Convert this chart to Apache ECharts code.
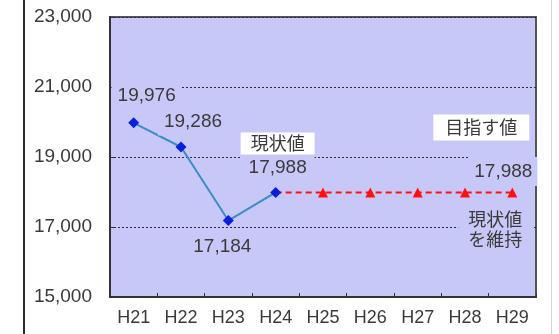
<!DOCTYPE html>
<html>
<head>
<meta charset="utf-8">
<script src="https://cdn.jsdelivr.net/npm/echarts@6/dist/echarts.min.js"></script>
<style>
  html, body { margin: 0; padding: 0; background: #ffffff; }
  #wrap { position: relative; width: 559px; height: 334px; overflow: hidden; }
  #chart { position: absolute; left: 0; top: 0; width: 559px; height: 334px; }
  #frameL { position: absolute; left: 23px; top: 0; width: 2px; height: 334px; background: #2a2a2a; }
  #frameR { position: absolute; left: 551px; top: 0; width: 1px; height: 334px; background: #d4d4d4; }
</style>
</head>
<body>
<div id="wrap">
  <div id="chart"></div>
  <div id="frameL"></div>
  <div id="frameR"></div>
</div>
<script>
// ---- data ----
const categories = ['H21', 'H22', 'H23', 'H24', 'H25', 'H26', 'H27', 'H28', 'H29'];
const actualValues = [19976, 19286, 17184, 17988, null, null, null, null, null];
const targetValues = [null, null, null, 17988, 17988, 17988, 17988, 17988, 17988];
const yTickValues = [15000, 17000, 19000, 21000, 23000];
const currentLabel = '現状値';
const goalLabel = '目指す値';
const keepLabel = '現状値\nを維持';

// ---- styling ----
const PLOT_BG = '#c8c8f8';
const TEXT = '#3a3a3a';
const NUM_FONT = "'Liberation Sans', Arial, sans-serif";
const JP_FONT = "'Noto Sans CJK JP', sans-serif";
const fmt = v => v.toLocaleString('en-US');

// label offsets (pixel nudges from each point)
const actualOffsets = [[13, -27], [12, -25], [-6, 26], [2, -37], null, null, null, null, null];

const actualData = actualValues.map((v, i) => {
  const item = { value: v };
  if (v == null) return item;
  if (i === 3) {
    item.label = {
      offset: actualOffsets[i],
      formatter: p => '{a|' + currentLabel + '}\n{b|' + fmt(p.value) + '}',
      backgroundColor: PLOT_BG,
      padding: [0, 0]
    };
  } else {
    item.label = { offset: actualOffsets[i] };
  }
  return item;
});

const lastIdx = targetValues.length - 1;
const chart = echarts.init(document.getElementById('chart'), null, { renderer: 'canvas' });

chart.setOption({
  animation: false,
  backgroundColor: '#ffffff',
  grid: {
    left: 110, right: 23, top: 17, bottom: 37,
    show: true, backgroundColor: PLOT_BG, borderColor: '#555555', borderWidth: 2
  },
  xAxis: {
    type: 'category',
    data: categories,
    boundaryGap: true,
    axisLine: { lineStyle: { color: '#333333', width: 2 } },
    axisTick: { show: true, inside: true, length: 4, lineStyle: { color: '#333333', width: 1 } },
    axisLabel: { color: TEXT, fontSize: 18, fontFamily: NUM_FONT, margin: 12 },
    splitLine: { show: false }
  },
  yAxis: {
    type: 'value',
    min: yTickValues[0],
    max: yTickValues[yTickValues.length - 1],
    interval: yTickValues[1] - yTickValues[0],
    axisLine: { show: true, lineStyle: { color: '#333333', width: 2 } },
    axisTick: { show: true, inside: true, length: 4, lineStyle: { color: '#333333' } },
    axisLabel: { color: TEXT, fontSize: 19, fontFamily: NUM_FONT, margin: 18, formatter: v => fmt(v) },
    splitLine: { show: true, lineStyle: { color: '#2a2a3a', width: 1, type: [2, 2] } }
  },
  series: [
    {
      name: 'target',
      type: 'line',
      data: targetValues,
      z: 3,
      symbol: (v, p) => (p.dataIndex === 3 ? 'none' : 'triangle'),
      symbolSize: 10,
      lineStyle: { color: '#ff1010', width: 2, type: [6, 4] },
      itemStyle: { color: '#ff1010' },
      label: { show: false },
      markPoint: {
        symbol: 'circle',
        symbolSize: 1,
        itemStyle: { color: 'rgba(0,0,0,0)' },
        data: [
          {
            coord: [categories[lastIdx], targetValues[lastIdx]],
            label: {
              show: true, position: 'inside', offset: [-31, -65],
              formatter: goalLabel,
              color: TEXT, fontSize: 18, fontFamily: JP_FONT,
              backgroundColor: '#ffffff', padding: [4, 12, 4, 12]
            }
          },
          {
            coord: [categories[lastIdx], targetValues[lastIdx]],
            label: {
              show: true, position: 'inside', offset: [-9, -21],
              formatter: fmt(targetValues[lastIdx]),
              color: TEXT, fontSize: 19, fontFamily: NUM_FONT,
              backgroundColor: PLOT_BG, padding: [6, 5, 4, 5]
            }
          },
          {
            coord: [categories[lastIdx], targetValues[lastIdx]],
            label: {
              show: true, position: 'inside', offset: [-17, 37],
              formatter: keepLabel,
              color: TEXT, fontSize: 18, lineHeight: 20, fontFamily: JP_FONT,
              backgroundColor: PLOT_BG, padding: [2, 10, 2, 10]
            }
          }
        ]
      }
    },
    {
      name: 'actual',
      type: 'line',
      data: actualData,
      z: 4,
      symbol: 'diamond',
      symbolSize: 11,
      lineStyle: { color: '#3c8cc6', width: 2 },
      itemStyle: { color: '#0a1ee0' },
      label: {
        show: true,
        position: 'inside',
        color: TEXT,
        fontSize: 19,
        fontFamily: NUM_FONT,
        backgroundColor: PLOT_BG,
        padding: [4, 6],
        formatter: p => fmt(p.value),
        rich: {
          a: { fontSize: 18, fontFamily: JP_FONT, color: TEXT, backgroundColor: '#ffffff', padding: [2, 10, 2, 10], lineHeight: 24 },
          b: { fontSize: 19, fontFamily: NUM_FONT, color: TEXT, lineHeight: 24 }
        }
      }
    }
  ]
});
</script>
</body>
</html>
